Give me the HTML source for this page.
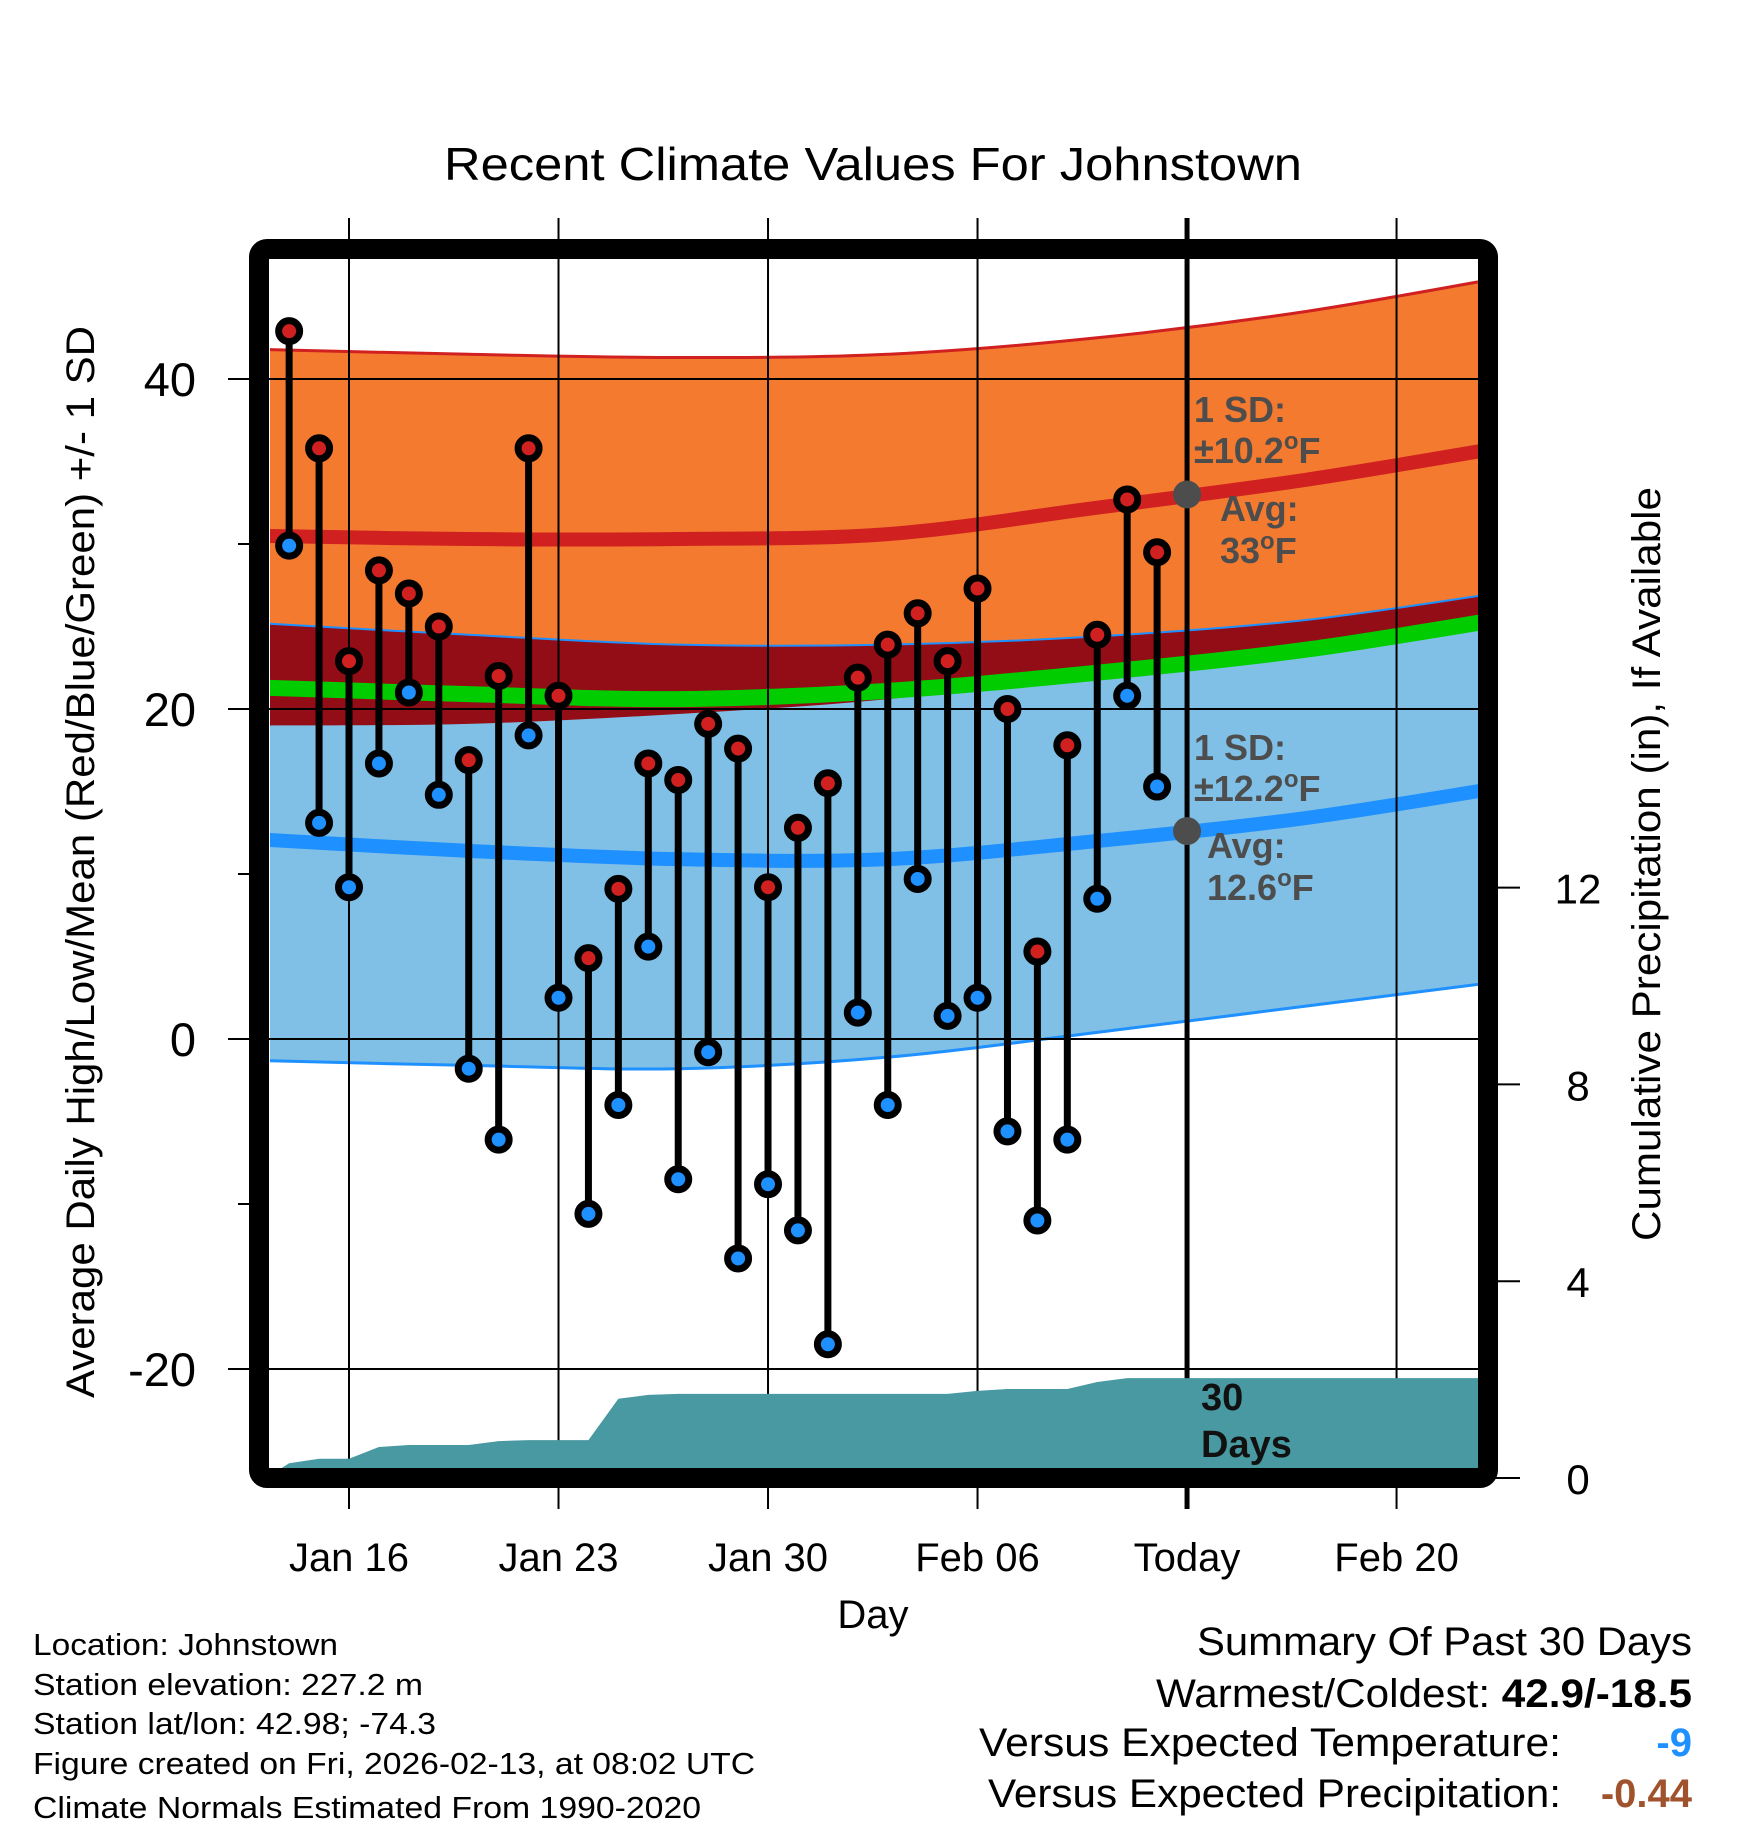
<!DOCTYPE html>
<html><head><meta charset="utf-8">
<style>
html,body{margin:0;padding:0;background:#fff;}
svg{display:block;font-family:"Liberation Sans",sans-serif;}
</style></head>
<body>
<svg id="chart" width="1748" height="1828" viewBox="0 0 1748 1828" xmlns="http://www.w3.org/2000/svg">
<defs><clipPath id="plotclip"><rect x="270" y="260" width="1208" height="1208"/></clipPath></defs>
<rect x="0" y="0" width="1748" height="1828" fill="#fff"/>
<g id="bands" clip-path="url(#plotclip)"></g>
<g id="grid"></g>
<g id="precip" clip-path="url(#plotclip)"></g>
<g id="marks"></g>
<g id="annot"></g>
<rect x="259" y="249" width="1229" height="1229" fill="none" stroke="#000" stroke-width="20" rx="8"/>
<g id="axes"></g>
<text x="873" y="180" text-anchor="middle" font-size="46" textLength="858" lengthAdjust="spacingAndGlyphs">Recent Climate Values For Johnstown</text>
<text transform="translate(94,862) rotate(-90)" text-anchor="middle" font-size="40" textLength="1072" lengthAdjust="spacingAndGlyphs">Average Daily High/Low/Mean (Red/Blue/Green) +/- 1 SD</text>
<text transform="translate(1660,864) rotate(-90)" text-anchor="middle" font-size="40" textLength="754" lengthAdjust="spacingAndGlyphs">Cumulative Precipitation (in), If Available</text>
<text x="873" y="1628" text-anchor="middle" font-size="40">Day</text>
<g font-size="31">
<text x="33" y="1655" textLength="305" lengthAdjust="spacingAndGlyphs">Location: Johnstown</text>
<text x="33" y="1695" textLength="390" lengthAdjust="spacingAndGlyphs">Station elevation: 227.2 m</text>
<text x="33" y="1734" textLength="403" lengthAdjust="spacingAndGlyphs">Station lat/lon: 42.98; -74.3</text>
<text x="33" y="1774" textLength="722" lengthAdjust="spacingAndGlyphs">Figure created on Fri, 2026-02-13, at 08:02 UTC</text>
<text x="33" y="1818" textLength="668" lengthAdjust="spacingAndGlyphs">Climate Normals Estimated From 1990-2020</text>
</g>
<g font-size="40">
<text x="1692" y="1655" text-anchor="end" textLength="495" lengthAdjust="spacingAndGlyphs">Summary Of Past 30 Days</text>
<text x="1692" y="1707" text-anchor="end" textLength="536" lengthAdjust="spacingAndGlyphs">Warmest/Coldest: <tspan font-weight="bold">42.9/-18.5</tspan></text>
<text x="1561" y="1756" text-anchor="end" textLength="582" lengthAdjust="spacingAndGlyphs">Versus Expected Temperature:</text>
<text x="1692" y="1756" text-anchor="end" font-weight="bold" fill="#1E90FF">-9</text>
<text x="1561" y="1807" text-anchor="end" textLength="573" lengthAdjust="spacingAndGlyphs">Versus Expected Precipitation:</text>
<text x="1692" y="1807" text-anchor="end" font-weight="bold" fill="#A0522D">-0.44</text>
</g>
</svg>
<script>
// ---- data ----
const dayLabels = ["Jan 14","Jan 15","Jan 16","Jan 17","Jan 18","Jan 19","Jan 20","Jan 21","Jan 22","Jan 23","Jan 24","Jan 25","Jan 26","Jan 27","Jan 28","Jan 29","Jan 30","Jan 31","Feb 01","Feb 02","Feb 03","Feb 04","Feb 05","Feb 06","Feb 07","Feb 08","Feb 09","Feb 10","Feb 11","Feb 12"];
const highs = [42.9,35.8,22.9,28.4,27.0,25.0,16.9,22.0,35.8,20.8,4.9,9.1,16.7,15.7,19.1,17.6,9.2,12.8,15.5,21.9,23.9,25.8,22.9,27.3,20.0,5.3,17.8,24.5,32.7,29.5];
const lows = [29.9,13.1,9.2,16.7,21.0,14.8,-1.8,-6.1,18.4,2.5,-10.6,-4.0,5.6,-8.5,-0.8,-13.3,-8.8,-11.6,-18.5,1.6,-4.0,9.7,1.4,2.5,-5.6,-11.0,-6.1,8.5,20.8,15.3];
const precipCum = [0.30,0.39,0.39,0.63,0.67,0.67,0.67,0.75,0.77,0.77,0.77,1.61,1.69,1.71,1.71,1.71,1.71,1.71,1.71,1.71,1.71,1.71,1.71,1.77,1.81,1.81,1.81,1.95,2.03,2.03];
// normals sampled at day offsets (days since Jan 16)
const normDays = [-3,4,11,18,25,32,39];
const highUpper = [41.8,41.5,41.3,41.5,42.5,44.1,46.3];
const highMean = [30.5,30.3,30.3,30.6,32.2,33.9,36.0];
const lowUpper = [25.2,24.5,23.9,23.9,24.4,25.4,27.2];
const overlapBottom = [19.0,19.1,19.7,20.6,22.2,23.6,25.6];
const meanMean = [21.3,20.9,20.6,21.1,22.2,23.6,25.6];
const lowMean = [12.1,11.4,10.9,10.9,12.0,13.4,15.4];
const lowLower = [-1.3,-1.6,-1.8,-1.1,0.4,2.0,3.6];
const yTicks = [-20,0,20,40];
const yMinor = [-10,10,30];
const pTicks = [0,4,8,12];
const xTickDays = [0,7,14,21,28,35];
const xTickLabels = ["Jan 16","Jan 23","Jan 30","Feb 06","Today","Feb 20"];
const firstDay = -2; // Jan 14
const todayDay = 28;

// ---- scales ----
const X = d => 349 + d*29.93;
const Y = t => 1039 - t*16.5;
const P = p => 1478 - p*49.2;
const NS = "http://www.w3.org/2000/svg";
function mk(tag, attrs, parent){const e=document.createElementNS(NS,tag);for(const k in attrs)e.setAttribute(k,attrs[k]);parent.appendChild(e);return e;}
function segs(pts){
  let s="";
  for(let i=0;i<pts.length-1;i++){
    const p0=pts[Math.max(0,i-1)],p1=pts[i],p2=pts[i+1],p3=pts[Math.min(pts.length-1,i+2)];
    const c1=[p1[0]+(p2[0]-p0[0])/6,p1[1]+(p2[1]-p0[1])/6];
    const c2=[p2[0]-(p3[0]-p1[0])/6,p2[1]-(p3[1]-p1[1])/6];
    s+=" C"+c1+" "+c2+" "+p2;
  }
  return s;
}
function curve(arr){
  const pts = normDays.map((d,i)=>[X(d),Y(arr[i])]);
  return "M"+pts[0][0]+","+pts[0][1]+segs(pts);
}
function revCurve(arr){
  const pts = normDays.map((d,i)=>[X(d),Y(arr[i])]).reverse();
  return " L"+pts[0][0]+","+pts[0][1]+segs(pts)+" Z";
}
const bands = document.getElementById('bands');
let e;
e = mk('path',{d:curve(lowUpper)+revCurve(lowLower),fill:'#80C0E6'},bands);
 
e = mk('path',{d:curve(highUpper)+revCurve(lowUpper),fill:'#F47A30'},bands);
 
e = mk('path',{d:curve(lowUpper)+revCurve(overlapBottom),fill:'#920D16'},bands);
 
e = mk('path',{d:curve(highUpper),fill:'none',stroke:'#D02020','stroke-width':3},bands);
 
e = mk('path',{d:curve(lowUpper),fill:'none',stroke:'#1E90FF','stroke-width':2},bands);
 
e = mk('path',{d:curve(lowLower),fill:'none',stroke:'#1E90FF','stroke-width':3},bands);
 
e = mk('path',{d:curve(meanMean),fill:'none',stroke:'#00CC00','stroke-width':16},bands);
 
e = mk('path',{d:curve(highMean),fill:'none',stroke:'#D02020','stroke-width':14},bands);
 
e = mk('path',{d:curve(lowMean),fill:'none',stroke:'#1E90FF','stroke-width':14},bands);
 

// grid
const grid = document.getElementById('grid');
yTicks.forEach(t=>{
  e = mk('line',{x1:228,x2:1478,y1:Y(t),y2:Y(t),stroke:'#000','stroke-width':2},grid);
   
});
xTickDays.forEach(d=>{
  e = mk('line',{x1:X(d),x2:X(d),y1:218,y2:1509,stroke:'#000','stroke-width':d===todayDay?5:2},grid);
   
});

// precip
const pr = document.getElementById('precip');
let pd = "M"+X(firstDay-0.25)+","+1468;
precipCum.forEach((v,i)=>{pd+=" L"+X(firstDay+i)+","+P(v);});
pd += " L1478,"+P(precipCum[precipCum.length-1])+" L1478,1468 Z";
e = mk('path',{d:pd,fill:'#4899A1'},pr);
 

// marks
const marks = document.getElementById('marks');
highs.forEach((h,i)=>{
  const x = X(firstDay+i);
  e = mk('line',{x1:x,x2:x,y1:Y(h),y2:Y(lows[i]),stroke:'#000','stroke-width':7},marks);
   
});
highs.forEach((h,i)=>{
  const x = X(firstDay+i);
  e = mk('circle',{cx:x,cy:Y(lows[i]),r:10.5,fill:'#1E90FF',stroke:'#000','stroke-width':7},marks);
   
  e = mk('circle',{cx:x,cy:Y(h),r:10.5,fill:'#D02020',stroke:'#000','stroke-width':7},marks);
   
});

// annotations
const an = document.getElementById('annot');
e = mk('circle',{cx:X(todayDay),cy:Y(33),r:14,fill:'#4D4D4D'},an);
 
e = mk('circle',{cx:X(todayDay),cy:Y(12.6),r:14,fill:'#4D4D4D'},an);
 
const labels = [
 [1194,422,'1 SD:','high-sd-label'],[1194,463,'±10.2<tspan dy="-14" font-size="24">o</tspan><tspan dy="14">F</tspan>','high-sd-value'],
 [1220,521,'Avg:','high-avg-label'],[1220,563,'33<tspan dy="-14" font-size="24">o</tspan><tspan dy="14">F</tspan>','high-avg-value'],
 [1194,760,'1 SD:','low-sd-label'],[1194,801,'±12.2<tspan dy="-14" font-size="24">o</tspan><tspan dy="14">F</tspan>','low-sd-value'],
 [1207,858,'Avg:','low-avg-label'],[1207,900,'12.6<tspan dy="-14" font-size="24">o</tspan><tspan dy="14">F</tspan>','low-avg-value']
];
labels.forEach(l=>{
  e = mk('text',{x:l[0],y:l[1],'font-size':36,'font-weight':'bold',fill:'#4D4D4D'},an);
  e.innerHTML = l[2];
   
});
e = mk('text',{x:1201,y:1410,'font-size':38,'font-weight':'bold',fill:'#111'},an); e.textContent='30';
 
e = mk('text',{x:1201,y:1457,'font-size':38,'font-weight':'bold',fill:'#111'},an); e.textContent='Days';
 

// axes labels
const ax = document.getElementById('axes');
yTicks.forEach(t=>{
  e = mk('text',{x:196,y:Y(t)+17,'text-anchor':'end','font-size':47},ax); e.textContent=String(t);
   
});
yMinor.forEach(t=>{
  e = mk('line',{x1:238,x2:250,y1:Y(t),y2:Y(t),stroke:'#000','stroke-width':2},ax);
   
});
pTicks.forEach(p=>{
  e = mk('line',{x1:1490,x2:1520,y1:P(p),y2:P(p),stroke:'#000','stroke-width':2},ax);
   
  e = mk('text',{x:1578,y:P(p)+16,'text-anchor':'middle','font-size':42},ax); e.textContent=String(p);
   
});
xTickDays.forEach((d,i)=>{
  e = mk('text',{x:X(d),y:1571,'text-anchor':'middle','font-size':40},ax); e.textContent=xTickLabels[i];
   
});
</script>
</body></html>
